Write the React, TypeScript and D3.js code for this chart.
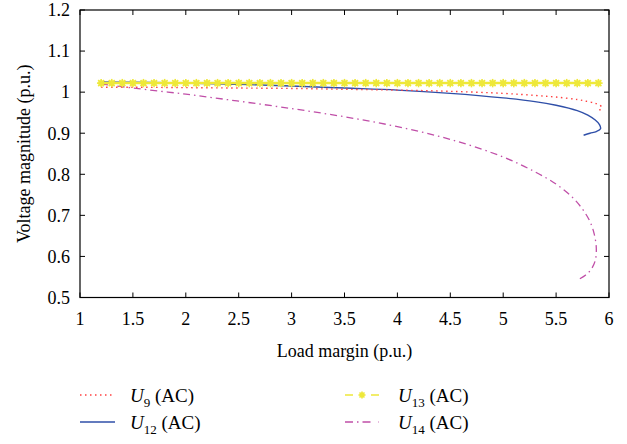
import React from "react";
import * as d3 from "d3";

const xTicks = [1, 1.5, 2, 2.5, 3, 3.5, 4, 4.5, 5, 5.5, 6];
const yTicks = [0.5, 0.6, 0.7, 0.8, 0.9, 1.0, 1.1, 1.2];

// U9 (AC)
const u9x = [1.2, 1.5, 2, 2.5, 3, 3.5, 4, 4.5, 5, 5.3, 5.5, 5.7, 5.8, 5.88, 5.93, 5.92, 5.88];
const u9y = [1.012, 1.012, 1.011, 1.01, 1.009, 1.007, 1.005, 1.002, 0.997, 0.992, 0.988, 0.982, 0.977, 0.972, 0.964, 0.958, 0.955];
// U12 (AC)
const u12x = [1.2, 1.5, 2, 2.5, 3, 3.5, 4, 4.5, 5, 5.3, 5.5, 5.7, 5.8, 5.87, 5.91, 5.92, 5.88, 5.82, 5.76];
const u12y = [1.025, 1.024, 1.022, 1.019, 1.015, 1.01, 1.005, 0.997, 0.986, 0.977, 0.968, 0.955, 0.944, 0.932, 0.921, 0.911, 0.904, 0.9, 0.895];
// U13 (AC)
const u13x = d3.range(12, 60).map((v) => v / 10);
const u13y = u13x.map(() => 1.022);
// U14 (AC)
const u14x = [1.2, 1.5, 2, 2.5, 3, 3.5, 4, 4.5, 5, 5.3, 5.5, 5.65, 5.75, 5.82, 5.86, 5.88, 5.87, 5.83, 5.78, 5.72];
const u14y = [1.02, 1.01, 0.995, 0.978, 0.96, 0.94, 0.916, 0.885, 0.842, 0.806, 0.776, 0.745, 0.715, 0.685, 0.655, 0.62, 0.59, 0.568, 0.555, 0.545];

const W = 627;
const H = 444;
const M = { left: 80, right: 609, top: 10, bottom: 297.5 };

function zip(xs: number[], ys: number[]): [number, number][] {
  return xs.map((x, i) => [x, ys[i]]);
}

const FONT = "'Liberation Serif', 'Times New Roman', 'DejaVu Serif', serif";

export default function App() {
  const x = d3.scaleLinear().domain([1, 6]).range([M.left, M.right]);
  const y = d3.scaleLinear().domain([0.5, 1.2]).range([M.bottom, M.top]);
  const line = d3
    .line<[number, number]>()
    .x((d) => x(d[0]))
    .y((d) => y(d[1]))
    .curve(d3.curveCatmullRom);

  const tl = 5;
  const red = "#ff4040";
  const blue = "#2f4fa8";
  const yellow = "#eee83a";
  const magenta = "#c04fa8";
  const ts = { fontFamily: FONT, fontSize: 18 } as React.CSSProperties;

  const star = (cx: number, cy: number, r: number, key: any) => (
    <g key={key} transform={`translate(${cx},${cy})`}>
      <circle r={r * 0.7} fill={yellow} />
      {[0, 45, 90, 135].map((a) => (
        <line
          key={a}
          x1={-r}
          x2={r}
          y1={0}
          y2={0}
          stroke={yellow}
          strokeWidth={1.6}
          transform={`rotate(${a})`}
        />
      ))}
    </g>
  );

  const u13 = zip(u13x, u13y);

  const legendItem = (lx: number, ly: number, sub: string, el: React.ReactNode) => (
    <g>
      {el}
      <text x={lx} y={ly + 7} style={{ ...ts, fontSize: 19 }}>
        <tspan fontStyle="italic">U</tspan>
        <tspan style={{ fontSize: 13 }} dy={5}>{sub}</tspan>
        <tspan dy={-5}> (AC)</tspan>
      </text>
    </g>
  );

  const r1 = 395;
  const r2 = 422;
  const lx0 = 80;
  const lx1 = 115;
  const rx0 = 345;
  const rx1 = 379;

  return (
    <svg width={W} height={H} style={{ display: "block", position: "absolute", left: 0, top: 0, fontFamily: FONT }}>
      <rect x={0} y={0} width={W} height={H} fill="#fff" />
      {/* series */}
      <path d={line(zip(u14x, u14y)) || ""} fill="none" stroke={magenta} strokeWidth={1.3} strokeDasharray="7,4,1.5,4" />
      <path d={line(zip(u12x, u12y)) || ""} fill="none" stroke={blue} strokeWidth={1.4} />
      <path d={line(zip(u9x, u9y)) || ""} fill="none" stroke={red} strokeWidth={1.4} strokeDasharray="1.5,3.5" />
      <path d={line(u13) || ""} fill="none" stroke={yellow} strokeWidth={2.5} />
      {u13.map((d, i) => star(x(d[0]), y(d[1]), 4.2, i))}

      {/* frame */}
      <rect x={M.left} y={M.top} width={M.right - M.left} height={M.bottom - M.top} fill="none" stroke="#000" strokeWidth={1.2} />
      {xTicks.map((t) => (
        <g key={"x" + t}>
          <line x1={x(t)} x2={x(t)} y1={M.bottom} y2={M.bottom - tl} stroke="#000" />
          <line x1={x(t)} x2={x(t)} y1={M.top} y2={M.top + tl} stroke="#000" />
          <text x={x(t)} y={M.bottom + 27.5} textAnchor="middle" style={ts}>
            {String(t)}
          </text>
        </g>
      ))}
      {yTicks.map((t) => (
        <g key={"y" + t}>
          <line x1={M.left} x2={M.left + tl} y1={y(t)} y2={y(t)} stroke="#000" />
          <line x1={M.right} x2={M.right - tl} y1={y(t)} y2={y(t)} stroke="#000" />
          <text x={M.left - 10} y={y(t)} dy="0.35em" textAnchor="end" style={ts}>
            {t === 1 ? "1" : t.toFixed(1)}
          </text>
        </g>
      ))}
      <text x={(M.left + M.right) / 2} y={357} textAnchor="middle" style={ts}>
        Load margin (p.u.)
      </text>
      <text transform={`translate(30,${(M.top + M.bottom) / 2}) rotate(-90)`} textAnchor="middle" style={ts}>
        Voltage magnitude (p.u.)
      </text>

      {/* legend */}
      {legendItem(lx1 + 15, r1, "9",
        <line x1={lx0} x2={lx1} y1={r1} y2={r1} stroke={red} strokeWidth={1.4} strokeDasharray="1.5,3.5" />)}
      {legendItem(lx1 + 15, r2, "12",
        <line x1={lx0} x2={lx1} y1={r2} y2={r2} stroke={blue} strokeWidth={1.4} />)}
      {legendItem(rx1 + 19, r1, "13",
        <g>
          <line x1={rx0} x2={rx1} y1={r1} y2={r1} stroke={yellow} strokeWidth={1.4} strokeDasharray="8,7,4,7,8" />
          {star((rx0 + rx1) / 2, r1, 3.5, "ls")}
        </g>)}
      {legendItem(rx1 + 19, r2, "14",
        <line x1={rx0} x2={rx1} y1={r2} y2={r2} stroke={magenta} strokeWidth={1.4} strokeDasharray="8,4,1.5,4,8" />)}
    </svg>
  );
}
